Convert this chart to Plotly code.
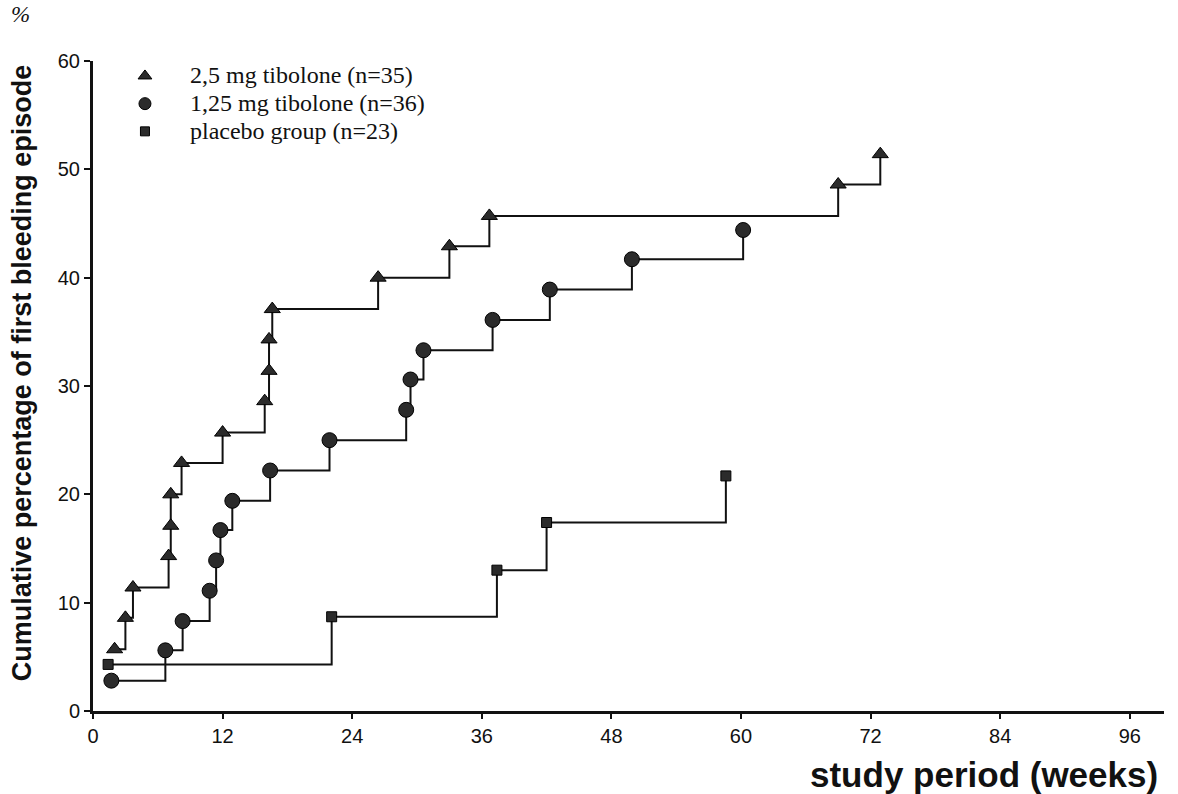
import plotly.graph_objects as go

# ---- data (weeks, cumulative %) ----
tib25_weeks = [2.0, 3.0, 3.7, 7.0, 7.2, 7.2, 8.2, 12.0, 15.9, 16.3, 16.3, 16.6, 26.4, 33.0, 36.7, 69.0, 72.9]
tib25_pct = [5.7, 8.6, 11.4, 14.3, 17.1, 20.0, 22.9, 25.7, 28.6, 31.4, 34.3, 37.1, 40.0, 42.9, 45.7, 48.6, 51.4]

tib125_weeks = [1.7, 6.7, 8.3, 10.8, 11.4, 11.8, 12.9, 16.4, 21.9, 29.0, 29.4, 30.6, 37.0, 42.3, 49.9, 60.2]
tib125_pct = [2.8, 5.6, 8.3, 11.1, 13.9, 16.7, 19.4, 22.2, 25.0, 27.8, 30.6, 33.3, 36.1, 38.9, 41.7, 44.4]

placebo_weeks = [1.4, 22.1, 37.4, 42.0, 58.6]
placebo_pct = [4.3, 8.7, 13.0, 17.4, 21.7]

series_names = ["2,5 mg tibolone (n=35)", "1,25 mg tibolone (n=36)", "placebo group (n=23)"]
x_ticks = [0, 12, 24, 36, 48, 60, 72, 84, 96]
y_ticks = [0, 10, 20, 30, 40, 50, 60]

series = [
    (tib25_weeks, tib25_pct, "triangle-up", 14, 12, series_names[0]),
    (tib125_weeks, tib125_pct, "circle", 15, 12, series_names[1]),
    (placebo_weeks, placebo_pct, "square", 10, 9, series_names[2]),
]

fig = go.Figure()
for xs, ys, sym, sz, lsz, name in series:
    fig.add_trace(go.Scatter(
        x=xs, y=ys, mode="lines+markers", line=dict(shape="hv", color="#111111", width=2),
        marker=dict(symbol=sym, size=sz, color="#2b2b2b", line=dict(color="#000000", width=1)),
        showlegend=False, name=name, cliponaxis=False))
for xs, ys, sym, sz, lsz, name in series:
    fig.add_trace(go.Scatter(
        x=[None], y=[None], mode="markers",
        name='<span style="font-size:24px">' + name + '</span>',
        marker=dict(symbol=sym, size=lsz, color="#2b2b2b", line=dict(color="#000000", width=1))))

fig.update_layout(
    width=1178, height=794,
    margin=dict(l=93, r=14, t=61, b=83),
    paper_bgcolor="white", plot_bgcolor="white",
    font=dict(family="Liberation Sans, Arial, sans-serif", color="#111111", size=20),
    legend=dict(x=0.0065, y=1.006, xanchor="left", yanchor="top", bgcolor="rgba(0,0,0,0)",
                font=dict(family="Liberation Serif, Times New Roman, serif", size=19, color="#111111"),
                itemwidth=80, tracegroupgap=0),
    xaxis=dict(range=[0, 99.17], tickvals=x_ticks, ticks="outside", ticklen=5, tickwidth=2,
               tickcolor="#111111", showline=True, linecolor="#111111", linewidth=3,
               showgrid=False, zeroline=False, tickfont=dict(size=20)),
    yaxis=dict(range=[0, 60], tickvals=y_ticks, ticks="outside", ticklen=6, tickwidth=2,
               tickcolor="#111111", showline=True, linecolor="#111111", linewidth=3,
               showgrid=False, zeroline=False, tickfont=dict(size=20)),
    annotations=[
        dict(text="<b>Cumulative percentage of first bleeding episode</b>", xref="paper", yref="paper",
             x=-0.0663, y=0.521, textangle=-90, showarrow=False, xanchor="center", yanchor="middle",
             font=dict(family="Liberation Sans, Arial, sans-serif", size=27, color="#111111")),
        dict(text="<b>study period (weeks)</b>", xref="paper", yref="paper", x=0.996, y=-0.097,
             xanchor="right", yanchor="middle", showarrow=False,
             font=dict(family="Liberation Sans, Arial, sans-serif", size=35, color="#111111")),
        dict(text="<i>%</i>", xref="paper", yref="paper", x=-0.068, y=1.072, xanchor="center",
             yanchor="middle", showarrow=False,
             font=dict(family="Liberation Serif, Times New Roman, serif", size=23, color="#111111")),
    ],
)

fig.write_html("out.html")
